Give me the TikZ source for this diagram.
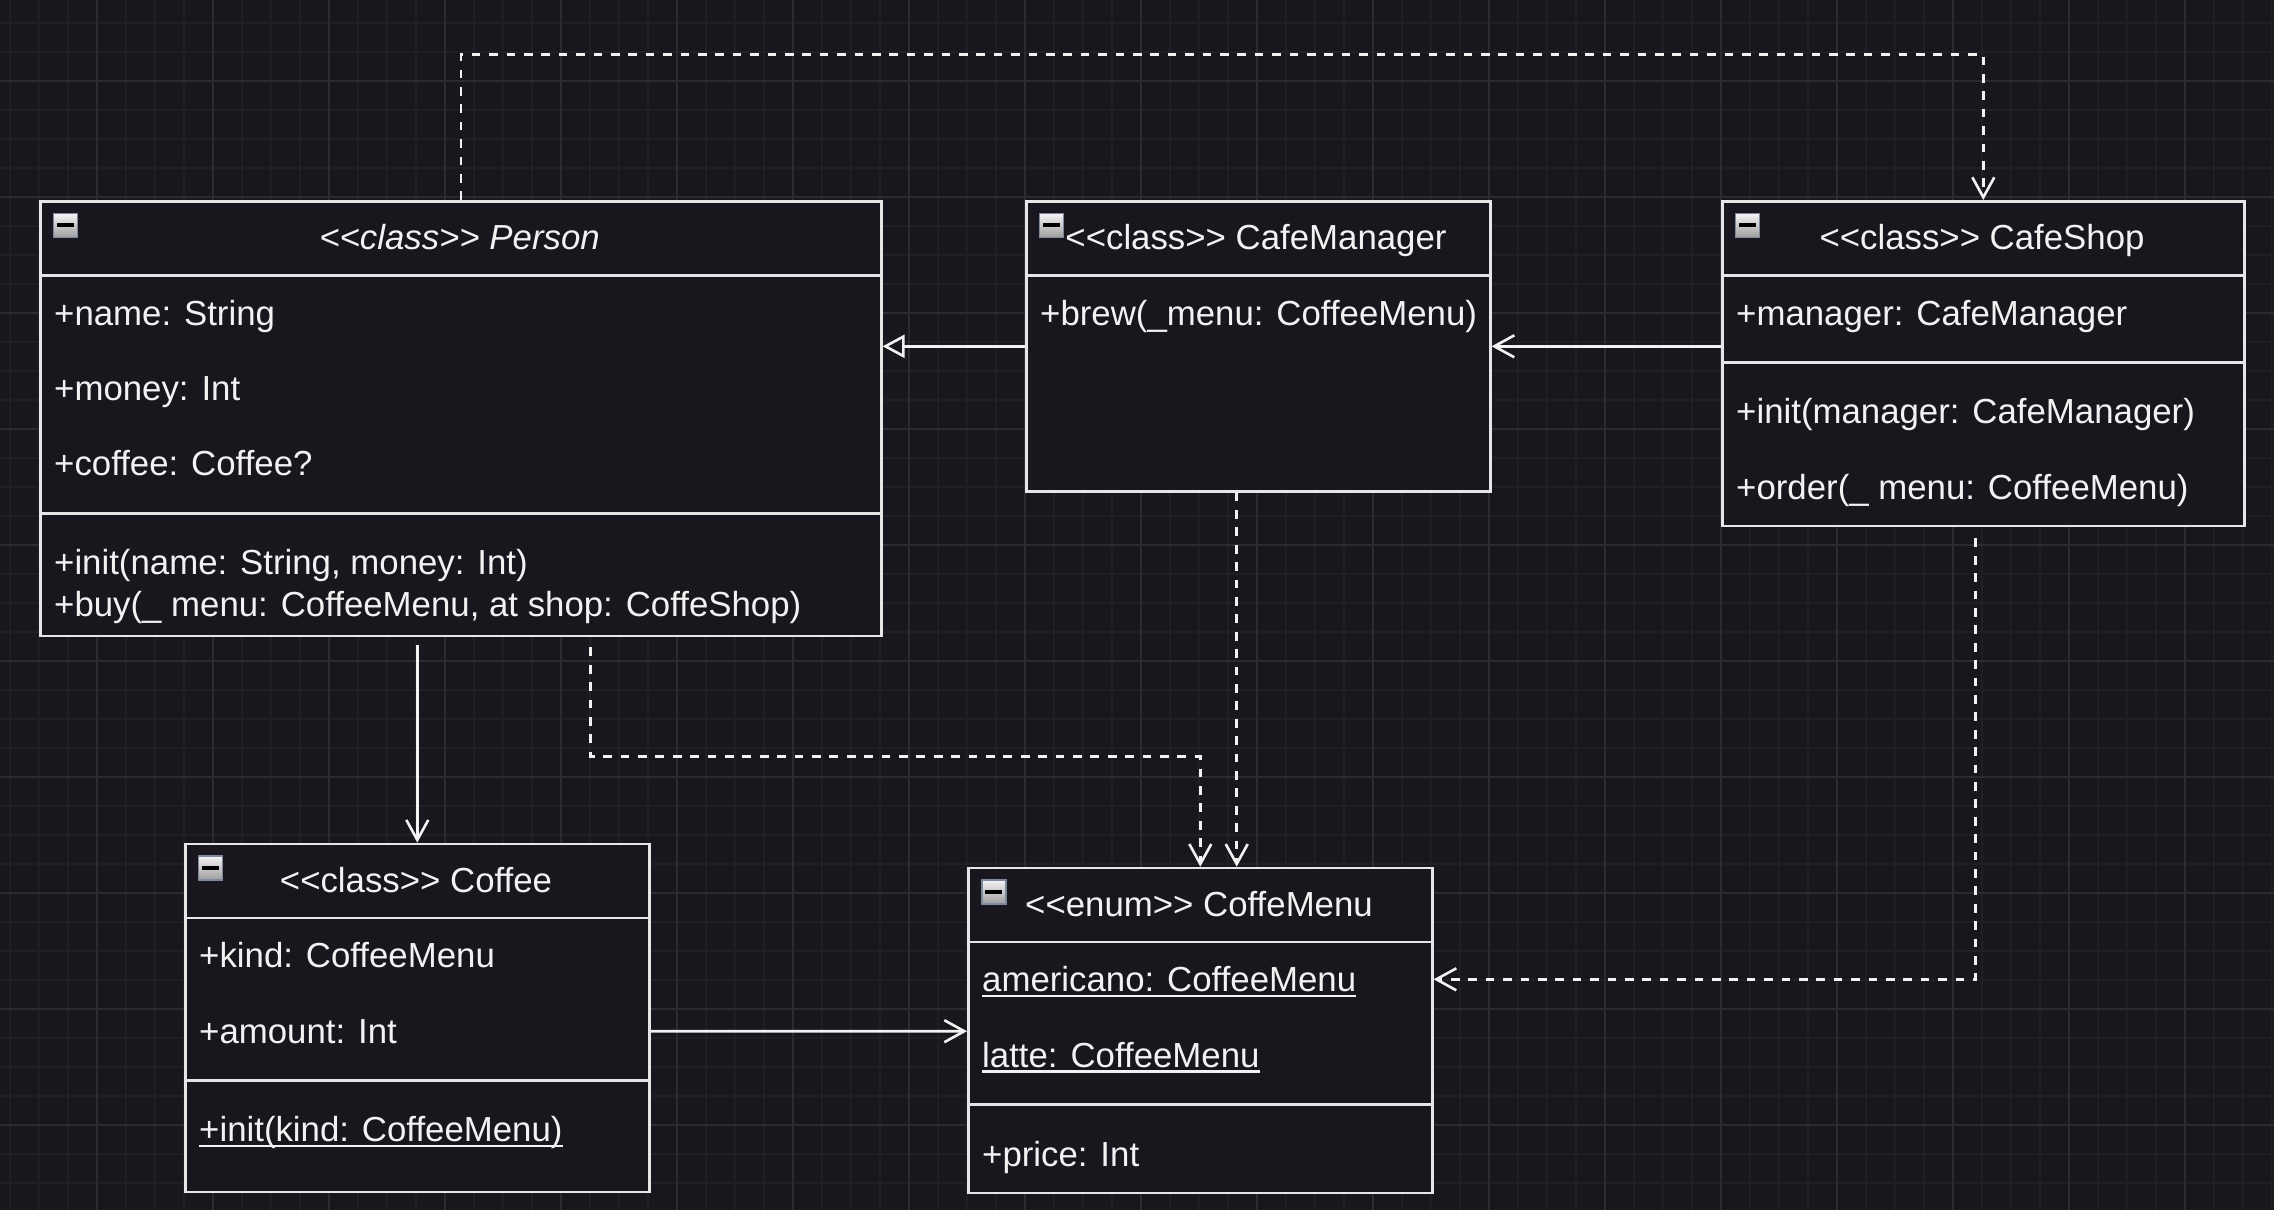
\documentclass[tikz,border=0pt]{standalone}
\usepackage{fontspec}
\setmainfont{Liberation Sans}[Ligatures=TeXOff]
\usetikzlibrary{arrows.meta,calc}

\definecolor{canvas}{HTML}{18171D}
\definecolor{gridminor}{HTML}{201F26}
\definecolor{gridmajor}{HTML}{2C2B32}
\definecolor{ink}{HTML}{F2F2F2}
\definecolor{frame}{HTML}{E6E6E6}
\definecolor{iconedge}{HTML}{7E889C}

% static members are underlined at a fixed depth
\newcommand\staticmember[1]{\setbox0\hbox{#1}\rlap{\vrule height -2.8pt depth 5.3pt width \wd0}\box0}

\tikzset{
  umlbox/.style={draw=frame, line width=2.6pt, fill=canvas, inner sep=0pt, anchor=north west},
  divider/.style={draw=frame, line width=2.6pt},
  member/.style={text=ink, inner sep=0pt, anchor=base west, font=\fontsize{34.8pt}{41.8pt}\selectfont},
  heading/.style={member, anchor=base},
  iconbox/.style={draw=iconedge, line width=1.6pt, top color=white!96!black, bottom color=white!62!black,
    minimum size=24pt, inner sep=0pt, anchor=north west,
    path picture={\fill[black] ([xshift=-8.5pt,yshift=-2pt]path picture bounding box.center)
      rectangle ([xshift=8.5pt,yshift=2pt]path picture bounding box.center);}},
  link/.style={draw=ink, line width=2.6pt},
  dep/.style={link, dash pattern=on 8.7pt off 8.7pt},
  opentip/.style={-{Straight Barb[length=20pt,width=22pt]}},
  inherittip/.style={-{Triangle[open,length=22pt,width=23pt]}},
}

\begin{document}
\begin{tikzpicture}[x=1pt, y=-1pt]
  % canvas and grid
  \fill[canvas] (0,0) rectangle (2274,1210);
  \useasboundingbox (0,0) rectangle (2274,1210);
  \foreach \k in {0,...,78} {
    \pgfmathsetmacro\gx{10+29*\k}
    \draw[gridminor, line width=1.3pt] (\gx,0) -- (\gx,1210);
  }
  \foreach \k in {-6,...,34} {
    \pgfmathsetmacro\gy{197+29*\k}
    \draw[gridminor, line width=1.3pt] (0,\gy) -- (2274,\gy);
  }
  \foreach \k in {3,7,...,75} {
    \pgfmathsetmacro\gx{10+29*\k}
    \draw[gridmajor, line width=1.6pt] (\gx,0) -- (\gx,1210);
  }
  \foreach \k in {-4,0,...,32} {
    \pgfmathsetmacro\gy{197+29*\k}
    \draw[gridmajor, line width=1.6pt] (0,\gy) -- (2274,\gy);
  }

  % ---------- Person ----------
  \node[umlbox, minimum width=841pt, minimum height=434.8pt] (person) at (39,200) {};
  \draw[divider] ([yshift=-75.4pt]person.north west) -- ([yshift=-75.4pt]person.north east);
  \draw[divider] ([yshift=-313.2pt]person.north west) -- ([yshift=-313.2pt]person.north east);
  \node[iconbox] (person-icon) at (52.5,212.5) {};
  \node[heading, font=\fontsize{34.8pt}{41.8pt}\selectfont\itshape] (person-title) at (459.5,249.7) {<<class>> Person};
  \node[member] (person-name) at (54,325.1) {+name: String};
  \node[member] (person-money) at (54,400.5) {+money: Int};
  \node[member] (person-coffee) at (54,475.9) {+coffee: Coffee?};
  \node[member] (person-init) at (54,574.7) {+init(name: String, money: Int)};
  \node[member] (person-buy) at (54,616.8) {+buy(\_ menu: CoffeeMenu, at shop: CoffeShop)};

  % ---------- CafeManager ----------
  \node[umlbox, minimum width=464pt, minimum height=290pt] (cafemanager) at (1025,200) {};
  \draw[divider] ([yshift=-75.4pt]cafemanager.north west) -- ([yshift=-75.4pt]cafemanager.north east);
  \node[iconbox] (cafemanager-icon) at (1038.5,212.5) {};
  \node[heading] (cafemanager-title) at (1256,249.7) {<<class>> CafeManager};
  \node[member] (cafemanager-brew) at (1040,325.1) {+brew(\_menu: CoffeeMenu)};

  % ---------- CafeShop ----------
  \node[umlbox, minimum width=522pt, minimum height=324.8pt] (cafeshop) at (1721,200) {};
  \draw[divider] ([yshift=-75.4pt]cafeshop.north west) -- ([yshift=-75.4pt]cafeshop.north east);
  \draw[divider] ([yshift=-162.4pt]cafeshop.north west) -- ([yshift=-162.4pt]cafeshop.north east);
  \node[iconbox] (cafeshop-icon) at (1734.5,212.5) {};
  \node[heading] (cafeshop-title) at (1982,249.7) {<<class>> CafeShop};
  \node[member] (cafeshop-manager) at (1736,325.1) {+manager: CafeManager};
  \node[member] (cafeshop-init) at (1736,423.7) {+init(manager: CafeManager)};
  \node[member] (cafeshop-order) at (1736,499.1) {+order(\_ menu: CoffeeMenu)};

  % ---------- Coffee ----------
  \node[umlbox, minimum width=464pt, minimum height=348.1pt] (coffee) at (184,842.6) {};
  \draw[divider] ([yshift=-75.4pt]coffee.north west) -- ([yshift=-75.4pt]coffee.north east);
  \draw[divider] ([yshift=-237.9pt]coffee.north west) -- ([yshift=-237.9pt]coffee.north east);
  \node[iconbox] (coffee-icon) at (197.5,855) {};
  \node[heading] (coffee-title) at (416,892.3) {<<class>> Coffee};
  \node[member] (coffee-kind) at (199,967.7) {+kind: CoffeeMenu};
  \node[member] (coffee-amount) at (199,1043.1) {+amount: Int};
  \node[member] (coffee-init) at (199,1141.8) {\staticmember{+init(kind: CoffeeMenu)}};

  % ---------- CoffeMenu ----------
  \node[umlbox, minimum width=464pt, minimum height=324.8pt] (coffeemenu) at (967,866.7) {};
  \draw[divider] ([yshift=-75.4pt]coffeemenu.north west) -- ([yshift=-75.4pt]coffeemenu.north east);
  \draw[divider] ([yshift=-237.8pt]coffeemenu.north west) -- ([yshift=-237.8pt]coffeemenu.north east);
  \node[iconbox] (coffeemenu-icon) at (981,879) {};
  \node[heading] (coffeemenu-title) at (1199,916.4) {<<enum>> CoffeMenu};
  \node[member] (coffeemenu-americano) at (982,991.8) {\staticmember{americano: CoffeeMenu}};
  \node[member] (coffeemenu-latte) at (982,1067.2) {\staticmember{latte: CoffeeMenu}};
  \node[member] (coffeemenu-price) at (982,1166.5) {+price: Int};

  % ---------- relations ----------
  % Person depends on CafeShop
  \draw[dep, opentip] (person.north) -- ++(0,-145.7) -| (cafeshop.north);
  % CafeManager generalizes to Person
  \draw[link, inherittip] (cafemanager.west) -- (cafemanager.west -| person.east);
  % CafeShop holds a CafeManager
  \draw[link, opentip] (cafeshop.west |- cafemanager.west) -- (cafemanager.east);
  % Person holds a Coffee
  \draw[link, opentip] ([yshift=-8pt]person.south -| coffee.north) -- (coffee.north);
  % Person depends on CoffeMenu
  \coordinate (person-drop) at ($(person.south west)+(551.7,10)$);
  \draw[dep, opentip] (person-drop) |- ($(coffeemenu.north)+(0,-110)$) -- (coffeemenu.north);
  % CafeManager depends on CoffeMenu
  \coordinate (cafemanager-drop) at ($(cafemanager.south west)+(211.7,0)$);
  \draw[dep, opentip] (cafemanager-drop) -- (cafemanager-drop |- coffeemenu.north);
  % CafeShop depends on CoffeMenu
  \coordinate (cafeshop-drop) at ($(cafeshop.south west)+(254.7,11)$);
  \draw[dep, opentip] (cafeshop-drop) |- ($(coffeemenu.north east)+(0,112.6)$);
  % Coffee holds a CoffeMenu
  \draw[link, opentip] ($(coffee.north east)+(0,188.6)$) -- ($(coffeemenu.north west)+(0,164.5)$);
\end{tikzpicture}
\end{document}
